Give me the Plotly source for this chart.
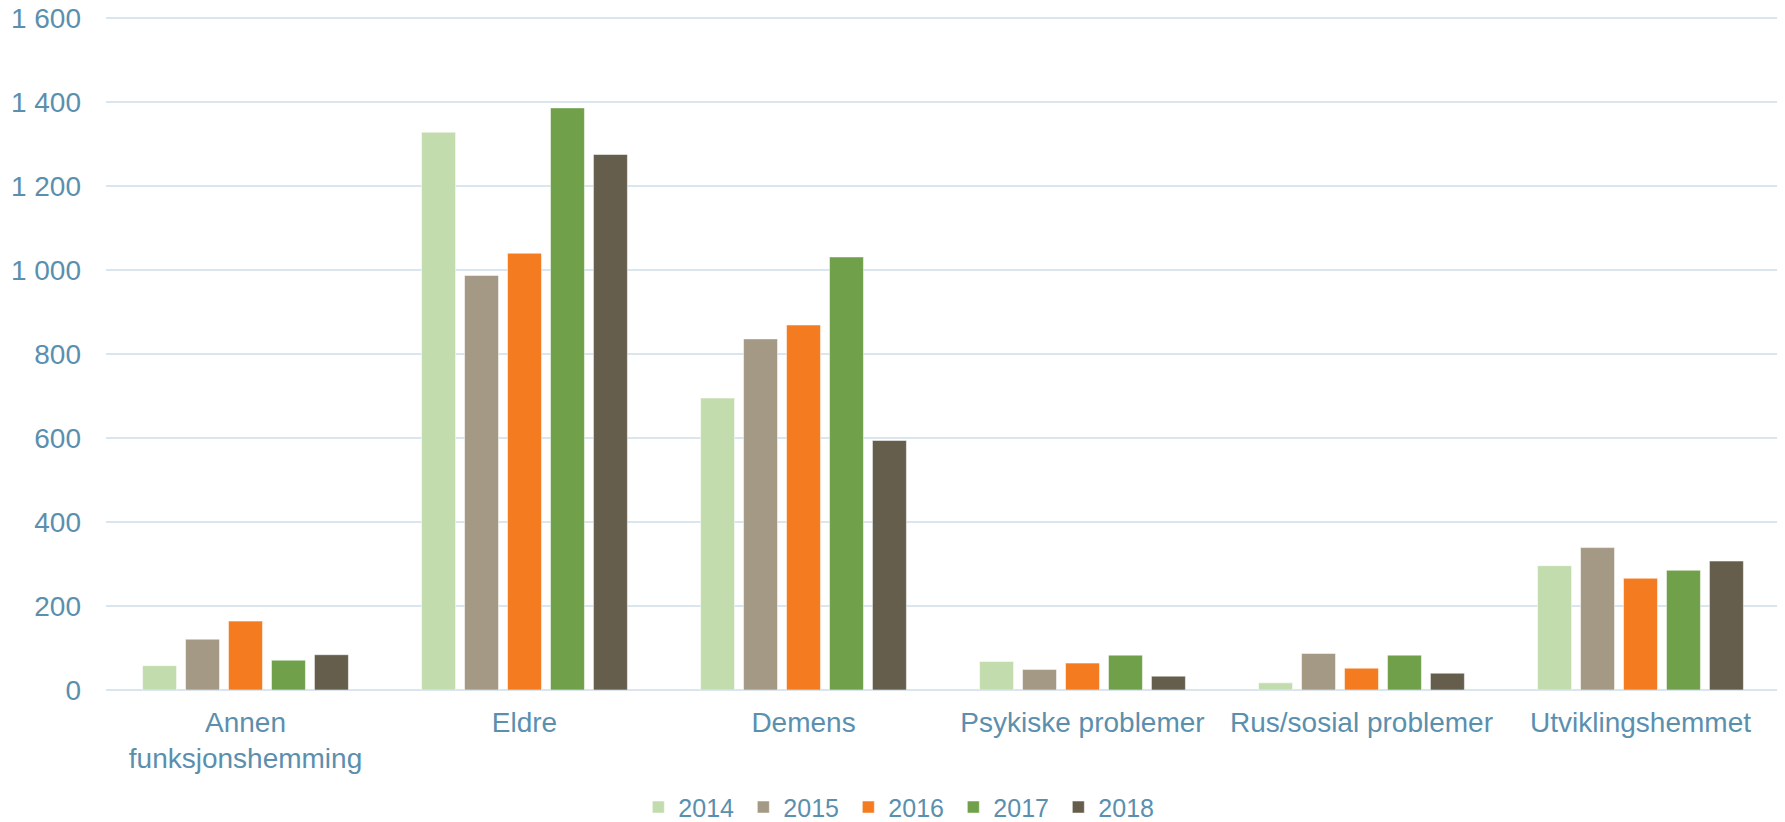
import plotly.graph_objects as go

categories = ["Annen<br>funksjonshemming", "Eldre", "Demens", "Psykiske problemer",
              "Rus/sosial problemer", "Utviklingshemmet"]
years = ["2014", "2015", "2016", "2017", "2018"]
v2014 = [58, 1328, 695, 68, 17, 296]
v2015 = [121, 987, 836, 49, 87, 339]
v2016 = [164, 1040, 869, 64, 52, 266]
v2017 = [71, 1386, 1031, 83, 83, 285]
v2018 = [84, 1275, 594, 33, 40, 307]
series = [v2014, v2015, v2016, v2017, v2018]
colors = ["#c3dcae", "#a49984", "#f47b20", "#70a04a", "#655e4c"]
tick_vals = [0, 200, 400, 600, 800, 1000, 1200, 1400, 1600]

text_color = "#5b8fae"
grid_color = "#dbe5ee"
font_family = "Arial, Liberation Sans, sans-serif"

# The page body has an 8px default margin; the figure is sized/placed accordingly.
W, H = 1777, 814
L, R, T, B = 98, 5, 4, 132

fig = go.Figure()
for name, vals, col in zip(years, series, colors):
    fig.add_trace(go.Bar(
        x=categories, y=vals, name=name,
        marker=dict(color=col, line=dict(color="rgba(255,255,255,0.5)", width=1)),
    ))

fig.update_layout(
    width=W, height=H,
    barmode="group", bargap=0.23, bargroupgap=0.21,
    plot_bgcolor="white", paper_bgcolor="white",
    separators=", ",
    font=dict(family=font_family, size=28, color=text_color),
    margin=dict(l=L, r=R, t=T, b=B, autoexpand=False),
    showlegend=True,
    legend=dict(orientation="h", x=0.318, xanchor="left", y=-0.173, yanchor="middle",
                font=dict(size=25, color=text_color), traceorder="normal",
                itemwidth=30, entrywidth=60, entrywidthmode="pixels"),
)
fig.update_yaxes(range=[0, 1614.3], tickvals=tick_vals, tickformat=",d",
                 showgrid=True, gridcolor=grid_color, gridwidth=2,
                 zeroline=True, zerolinecolor=grid_color, zerolinewidth=2,
                 showline=False, ticks="", ticklabelstandoff=24,
                 ticklabeloverflow="allow",
                 tickfont=dict(size=28, color=text_color))
fig.update_xaxes(showgrid=False, showline=False, ticks="",
                 tickfont=dict(size=28, color=text_color), ticklabelstandoff=13)

fig.write_html("out.html")
